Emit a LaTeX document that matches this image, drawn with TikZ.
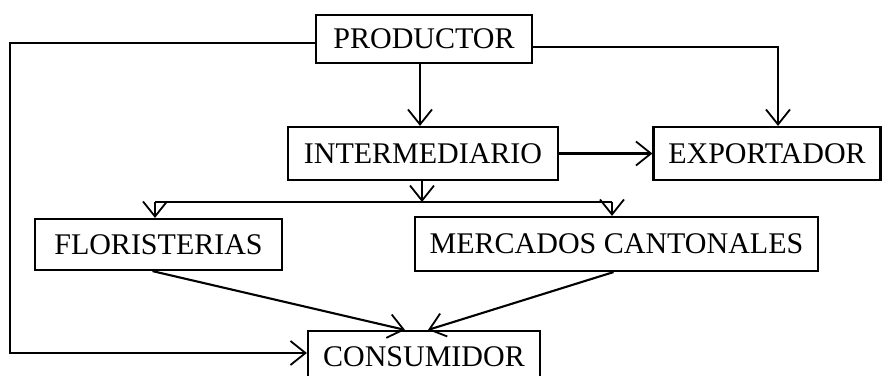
\documentclass[tikz,border=0pt]{standalone}
\usepackage{fontspec}
\setmainfont{Liberation Serif}
\usetikzlibrary{arrows.meta,calc}
\begin{document}
\begin{tikzpicture}[x=1pt,y=-1pt,
  box/.style={draw, line width=2.2pt, rectangle, inner sep=0pt,
    font=\fontsize{30}{34}\selectfont},
  conn/.style={line width=2.1pt},
  arr/.style={conn, -{Straight Barb[length=15pt,width=24pt,line width=1.8pt]}}]
\useasboundingbox (0,0) rectangle (883,375);
\node[box, minimum width=216pt, minimum height=48pt] (prod) at (424,39) {PRODUCTOR};
\node[box, minimum width=270pt, minimum height=53pt] (inter) at (423,153.5) {INTERMEDIARIO};
\node[box, minimum width=227pt, minimum height=53pt] (expo) at (767,153.5) {EXPORTADOR};
\node[box, minimum width=247pt, minimum height=51pt] (flor) at (158.5,244.5) {FLORISTERIAS};
\node[box, minimum width=403pt, minimum height=54pt] (merc) at (616.5,244) {MERCADOS CANTONALES};
\node[box, minimum width=232pt, minimum height=52pt] (cons) at (424,357) {CONSUMIDOR};
\coordinate (L) at (10,43);
\coordinate (dl) at (155,202);
\coordinate (dr) at (612,202);
% producer to intermediary
\draw[arr] ([xshift=-4pt]prod.south) -- ([xshift=-4pt]prod.south |- inter.north);
% producer to consumer (left loop)
\draw[arr] (prod.west |- L) -- (L) |- ([yshift=4pt]cons.west);
% producer to exporter
\draw[arr] ([yshift=-8pt]prod.east) -| ([xshift=11pt]expo.north);
% intermediary to exporter
\draw[arr] (inter.east) -- (expo.west);
% distribution
\draw[conn] (dl) -- (dr);
\draw[arr] ([xshift=-1pt]inter.south) -- ([xshift=-1pt]inter.south |- dl);
\draw[arr] (dl) -- (dl |- flor.north);
\draw[arr] (dr) -- (dr |- merc.north);
% to consumer
\draw[arr] ([xshift=-6pt]flor.south) -- ([xshift=-19pt]cons.north);
\draw[arr] ([xshift=-3pt]merc.south) -- ([xshift=4pt]cons.north);
\end{tikzpicture}
\end{document}
